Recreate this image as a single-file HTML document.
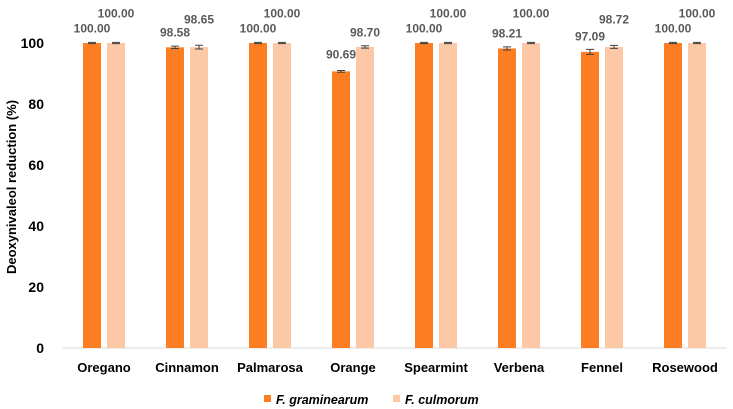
<!DOCTYPE html>
<html><head><meta charset="utf-8"><style>
body{margin:0;background:#fff;}
svg{display:block;font-family:"Liberation Sans",sans-serif;}
</style></head><body>
<svg id="c" width="733" height="409"></svg>
<script>
const categories=["Oregano","Cinnamon","Palmarosa","Orange","Spearmint","Verbena","Fennel","Rosewood"];
const gramValues=[100,98.58,100,90.69,100,98.21,97.09,100];
const culmValues=[100,98.65,100,98.70,100,100,98.72,100];
const gramErr=[0.2,0.4,0.2,0.3,0.2,0.5,0.8,0.2];
const culmErr=[0.2,0.6,0.2,0.4,0.2,0.2,0.5,0.2];
const yTicks=[0,20,40,60,80,100];
const gramLabelY=[28,32,28,54,28,33,36,28];
const culmLabelY=[13,19,13,32,13,13,19,13];
const NS="http://www.w3.org/2000/svg",svg=document.getElementById('c');
const x0=62.5,cw=83,yB=348,yT=43;
const y=v=>yB-(v/100)*(yB-yT);
const xc=i=>x0+cw*(i+0.5);
function mk(t,a,p){const e=document.createElementNS(NS,t);for(const k in a)e.setAttribute(k,a[k]);(p||svg).appendChild(e);return e;}
yTicks.forEach(t=>{const e=mk('text',{x:44,y:y(t)+5,'text-anchor':'end','font-size':14,'font-weight':'bold',fill:'#000'});e.textContent=t;

});
const ax=mk('line',{x1:x0,x2:x0+cw*8,y1:yB,y2:yB,stroke:'#d9d9d9','stroke-width':1});


const tt=mk('text',{transform:'translate(16,187) rotate(-90)','text-anchor':'middle','font-size':13,'font-weight':'bold'});
tt.textContent='Deoxynivaleol reduction  (%)';


function bar(v,err,i,dx,col,ly,name){
 const bx=xc(i)+dx;
 const r=mk('rect',{x:bx,y:y(v),width:18,height:yB-y(v),fill:col});
 
 
 const cx=bx+9;
 const g=mk('path',{d:`M${cx},${y(v+err)}V${y(v-err)}M${cx-4},${y(v+err)}H${cx+4}M${cx-4},${y(v-err)}H${cx+4}`,stroke:'#404040','stroke-width':1,fill:'none'});
 
 
 const t=mk('text',{x:cx,y:ly+4.5,'text-anchor':'middle','font-size':12,'font-weight':'bold',fill:'#595959'});
 t.textContent=v.toFixed(2);
 
 
}
categories.forEach((c,i)=>{
 bar(gramValues[i],gramErr[i],i,-21,'#fd7e22',gramLabelY[i],'bar-graminearum');
 bar(culmValues[i],culmErr[i],i,3,'#fcc8a6',culmLabelY[i],'bar-culmorum');
 const t=mk('text',{x:xc(i),y:372,'text-anchor':'middle','font-size':13,'font-weight':'bold'});
 t.textContent=c;
 
 
});
[['F. graminearum','#fd7e22',264],['F. culmorum','#fcc8a6',393]].forEach(([n,c,x])=>{
 const g=mk('g',{});
 
 
 mk('rect',{x:x,y:395,width:7,height:7,fill:c},g);
 const t=mk('text',{x:x+12,y:404,'font-size':12.5,'font-weight':'bold','font-style':'italic'},g);t.textContent=n;
});
</script>
</body></html>
